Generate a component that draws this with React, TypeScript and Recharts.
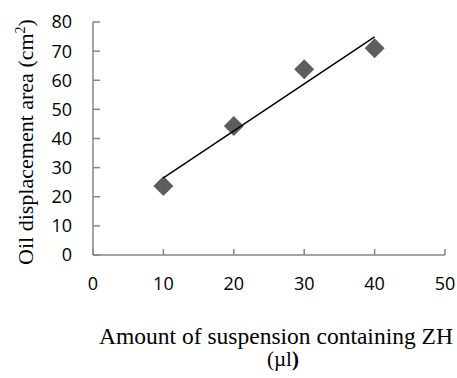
import { ScatterChart, Scatter, XAxis, YAxis, Label } from "recharts";

const amounts = [10, 20, 30, 40];
const areas = [23.7, 44.3, 63.8, 71.0];
const trendX = [10, 40];
const trendY = [26.5, 74.9];
const xTicks = [0, 10, 20, 30, 40, 50];
const yTicks = [0, 10, 20, 30, 40, 50, 60, 70, 80];

const points = amounts.map((x, i) => ({ x, y: areas[i] }));
const trend = trendX.map((x, i) => ({ x, y: trendY[i] }));

const AXIS = "#868686";
const TICK_FONT = "'Open Sans', 'Liberation Sans', sans-serif";
const TITLE_FONT = "'Liberation Serif', 'Times New Roman', serif";

const tickStyle = { fontFamily: TICK_FONT, fontSize: 18, fill: "#000" };

const Diamond = (props: any) => {
    const { cx, cy } = props;
    const r = 10;
    return (
        <polygon
            points={`${cx},${cy - r} ${cx + r},${cy} ${cx},${cy + r} ${cx - r},${cy}`}
            fill="#5e5e5e"
        />
    );
};

const XTitle = () => (
    <text fontFamily={TITLE_FONT} fontSize={23.5} fill="#000" textAnchor="middle">
        <tspan x={276} y={344}>Amount of suspension containing ZH</tspan>
        <tspan x={283} y={366} fontSize={21}>(µl<tspan fontWeight="bold">)</tspan></tspan>
    </text>
);

const YTitle = () => (
    <text
        x={0}
        y={0}
        transform="translate(33,142) rotate(-90)"
        fontFamily={TITLE_FONT}
        fontSize={22}
        fill="#000"
        textAnchor="middle"
    >
        Oil displacement area (cm
        <tspan fontSize={14} dy={-8}>2</tspan>
        <tspan dy={8}>)</tspan>
    </text>
);

export default function App() {
    return (
        <div style={{ position: "absolute", left: 0, top: 0, background: "#fff" }}>
            <ScatterChart width={457} height={378} margin={{ top: 22, right: 12, left: 0, bottom: 0 }}>
                <XAxis
                    type="number"
                    dataKey="x"
                    domain={[0, 50]}
                    ticks={xTicks}
                    height={123}
                    axisLine={{ stroke: AXIS, strokeWidth: 1.5 }}
                    tickLine={{ stroke: AXIS, strokeWidth: 1.5 }}
                    tickSize={-6}
                    tickMargin={28}
                    tick={tickStyle}
                    interval={0}
                >
                    <Label content={<XTitle />} />
                </XAxis>
                <YAxis
                    type="number"
                    dataKey="y"
                    domain={[0, 80]}
                    ticks={yTicks}
                    width={93}
                    axisLine={{ stroke: AXIS, strokeWidth: 1.5 }}
                    tickLine={{ stroke: AXIS, strokeWidth: 1.5 }}
                    tickSize={-7}
                    tickMargin={28}
                    tick={tickStyle}
                    interval={0}
                >
                    <Label content={<YTitle />} />
                </YAxis>
                <Scatter data={points} shape={<Diamond />} isAnimationActive={false} />
                <Scatter
                    data={trend}
                    line={{ stroke: "#000", strokeWidth: 1.5 }}
                    shape={() => <g />}
                    isAnimationActive={false}
                />
            </ScatterChart>
        </div>
    );
}
